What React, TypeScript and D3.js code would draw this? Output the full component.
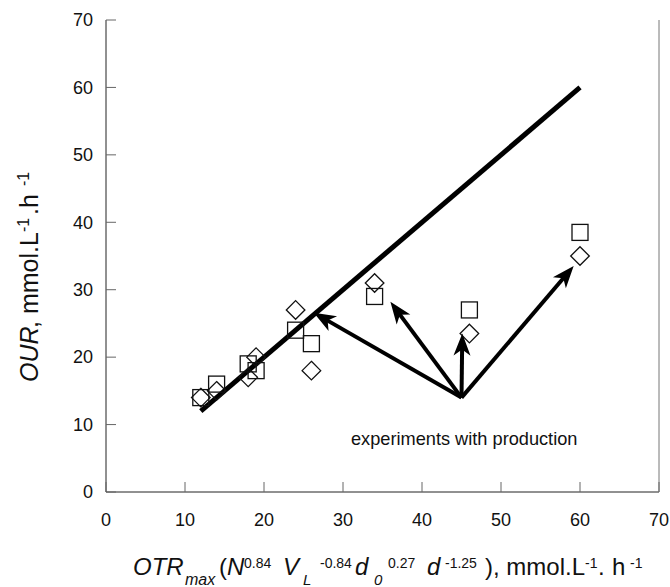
import React from "react";
import * as d3 from "d3";

// values
const xTicks = [0, 10, 20, 30, 40, 50, 60, 70];
const yTicks = [0, 10, 20, 30, 40, 50, 60, 70];

const squareX = [12, 14, 18, 19, 24, 26, 34, 46, 60];
const squareY = [14, 16, 19, 18, 24, 22, 29, 27, 38.5];

const diamondX = [12, 14, 18, 19, 24, 26, 34, 46, 60];
const diamondY = [14, 15, 17, 20, 27, 18, 31, 23.5, 35];

// 1:1 line
const lineX = [12, 60];
const lineY = [12, 60];

// arrows from one origin to the production points
const arrowOrigin = [45, 14];
const arrowTipX = [26.3, 36, 45.1, 59.2];
const arrowTipY = [26.6, 28.2, 23.5, 33.5];

const annotation = "experiments with production";

const W = 670;
const H = 587;
const font = "'Liberation Sans', Arial, Helvetica, sans-serif";

export default function App() {
  const x = d3.scaleLinear().domain([0, 70]).range([106, 659]);
  const y = d3.scaleLinear().domain([0, 70]).range([492, 20]);

  const line = d3
    .line<[number, number]>()
    .x((d) => x(d[0]))
    .y((d) => y(d[1]));

  const diag: [number, number][] = lineX.map((v, i) => [v, lineY[i]]);
  const sq = 16;
  const dh = 9.3;

  const ox = x(arrowOrigin[0]);
  const oy = y(arrowOrigin[1]);

  return (
    <svg
      width={W}
      height={H}
      style={{ position: "absolute", left: 0, top: 0, background: "#fff" }}
      fontFamily={font}
    >
      <rect width={W} height={H} fill="#fff" />

      {/* axes */}
      <line x1={x(0)} x2={x(0)} y1={y(70)} y2={y(0)} stroke="#222" strokeWidth={1} />
      <line x1={x(0)} x2={x(70)} y1={y(0)} y2={y(0)} stroke="#222" strokeWidth={1} />
      <line x1={x(70)} x2={x(70)} y1={y(70)} y2={y(0)} stroke="#777" strokeWidth={1} />

      {xTicks.map((t) => (
        <g key={"x" + t}>
          <line x1={x(t)} x2={x(t)} y1={y(0)} y2={y(0) - 10} stroke="#666" strokeWidth={1} />
          <text x={x(t)} y={526} fontSize={18} textAnchor="middle" fill="#111">
            {t}
          </text>
        </g>
      ))}
      {yTicks.map((t) => (
        <g key={"y" + t}>
          <line x1={x(0)} x2={x(0) + 10} y1={y(t)} y2={y(t)} stroke="#666" strokeWidth={1} />
          <text x={93} y={y(t)} dy="0.35em" fontSize={18} textAnchor="end" fill="#111">
            {t}
          </text>
        </g>
      ))}

      {/* 1:1 line */}
      <path d={line(diag) || ""} stroke="#000" strokeWidth={5} fill="none" />

      {/* squares */}
      {squareX.map((v, i) => (
        <rect
          key={"s" + i}
          x={x(v) - sq / 2}
          y={y(squareY[i]) - sq / 2}
          width={sq}
          height={sq}
          fill="none"
          stroke="#111"
          strokeWidth={1.3}
        />
      ))}

      {/* diamonds */}
      {diamondX.map((v, i) => {
        const cx = x(v);
        const cy = y(diamondY[i]);
        return (
          <path
            key={"d" + i}
            d={`M${cx},${cy - dh}L${cx + dh},${cy}L${cx},${cy + dh}L${cx - dh},${cy}Z`}
            fill="none"
            stroke="#111"
            strokeWidth={1.3}
          />
        );
      })}

      {/* arrows */}
      {arrowTipX.map((v, i) => {
        const tx = x(v);
        const ty = y(arrowTipY[i]);
        const ang = Math.atan2(ty - oy, tx - ox);
        const deg = (ang * 180) / Math.PI;
        const ex = tx - Math.cos(ang) * 15;
        const ey = ty - Math.sin(ang) * 15;
        return (
          <g key={"a" + i}>
            <line x1={ox} y1={oy} x2={ex} y2={ey} stroke="#000" strokeWidth={4} />
            <path
              d="M0,0L-22,-8.5L-16,0L-22,8.5Z"
              transform={`translate(${tx},${ty}) rotate(${deg})`}
              fill="#000"
            />
          </g>
        );
      })}

      <text x={351} y={445} fontSize={18.2} fill="#111">
        {annotation}
      </text>

      {/* x title */}
      <text fontSize={24} fill="#111">
        <tspan x={133} y={575} fontStyle="italic">OTR</tspan>
        <tspan x={185} y={585} fontSize={16} fontStyle="italic">max</tspan>
        <tspan x={219} y={575}>(</tspan>
        <tspan x={227} y={575} fontStyle="italic">N</tspan>
        <tspan x={244} y={568} fontSize={14}>0.84</tspan>
        <tspan x={283} y={575} fontStyle="italic">V</tspan>
        <tspan x={303} y={585} fontSize={15} fontStyle="italic">L</tspan>
        <tspan x={320} y={568} fontSize={14}>-0.84</tspan>
        <tspan x={355} y={575} fontStyle="italic">d</tspan>
        <tspan x={374} y={585} fontSize={15} fontStyle="italic">0</tspan>
        <tspan x={388} y={568} fontSize={14}>0.27</tspan>
        <tspan x={427} y={575} fontStyle="italic">d</tspan>
        <tspan x={445} y={568} fontSize={14}>-1.25</tspan>
        <tspan x={485} y={575}>), mmol.L</tspan>
        <tspan x={585} y={568} fontSize={14}>-1</tspan>
        <tspan x={598} y={575}>.</tspan>
        <tspan x={612} y={575}>h</tspan>
        <tspan x={630} y={568} fontSize={14}>-1</tspan>
      </text>

      {/* y title */}
      <g transform="translate(38,0) rotate(-90)">
        <text fontSize={25} fill="#111">
          <tspan x={-382} y={0} fontStyle="italic">OUR</tspan>
          <tspan x={-328} y={0}>, mmol.L</tspan>
          <tspan x={-232} y={-9} fontSize={16}>-1</tspan>
          <tspan x={-215} y={0}>.h</tspan>
          <tspan x={-186} y={-9} fontSize={16}>-1</tspan>
        </text>
      </g>
    </svg>
  );
}
